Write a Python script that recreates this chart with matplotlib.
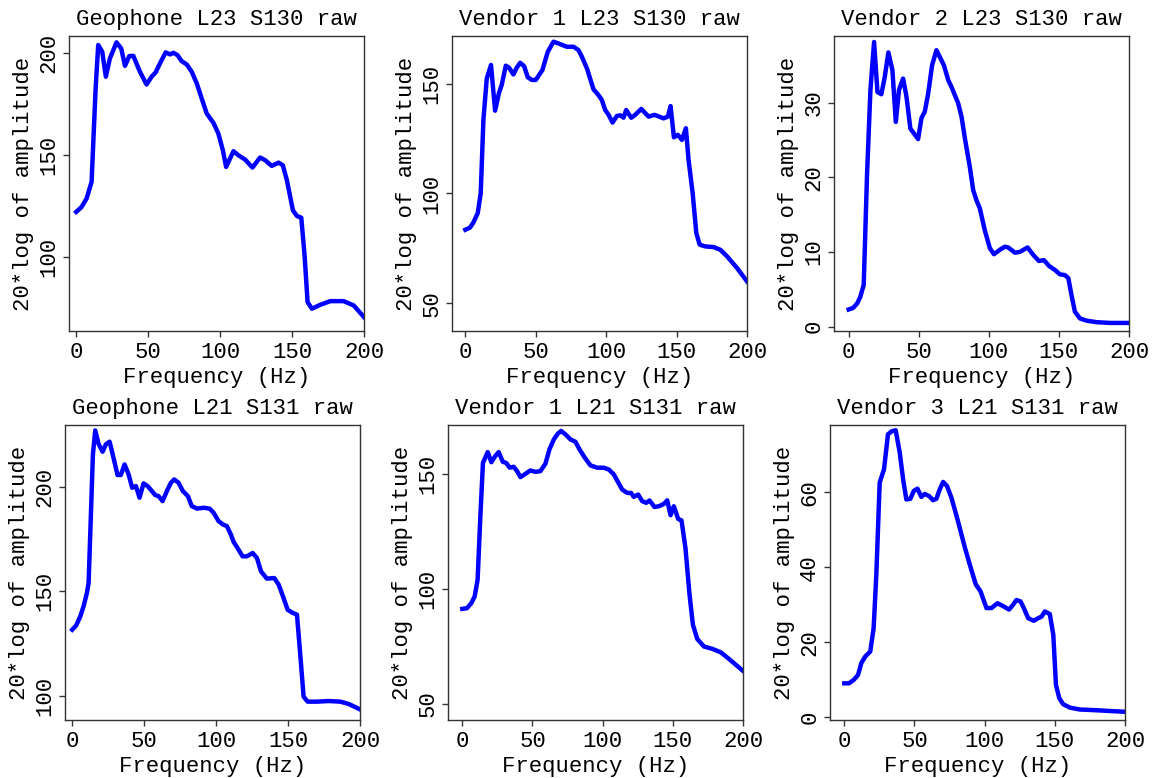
import matplotlib
matplotlib.use("Agg")
import matplotlib.pyplot as plt

plt.rcParams['font.family'] = ['Liberation Mono', 'DejaVu Sans Mono']

f_geo23 = [0, 3.7, 7.2, 10.7, 13.5, 15.3, 18.1, 20.6, 23.4, 28, 31.3, 33.9, 36.9, 39.7, 44.3, 48.9,
           52.4, 55.2, 58.2, 62.2, 65.2, 67.5, 70.3, 73.3, 76.8, 80.3, 83.8, 87.2, 90.7, 95.4, 98.8,
           101.9, 104.2, 106.9, 109.3, 112.7, 117.4, 122.5, 127.8, 131.3, 135.9, 140.6, 143.6, 146.4,
           150.6, 153.4, 156.4, 158.7, 160.8, 163.8, 169.6, 176.6, 185.8, 192.8, 200]
a_geo23 = [122.2, 124.6, 128.7, 136.9, 182.5, 203.8, 200.5, 188.3, 197.2, 205.1, 202.1, 193.6, 198.4,
           198.5, 190.7, 184.5, 188.3, 190.4, 194.8, 200.2, 199.2, 200, 198.9, 195.9, 194.3, 190.7,
           185, 177.7, 170.3, 165.7, 160.5, 152.4, 144.2, 148.3, 151.9, 149.9, 147.8, 143.9, 148.8,
           147.5, 144.7, 146.3, 145, 137.7, 123, 120.2, 119.4, 101, 78.1, 74.9, 76.8, 78.6, 78.6,
           76.5, 70.8]

f_v1_23 = [0, 3.3, 5.7, 8.8, 10.9, 12.8, 15.2, 18.2, 21.1, 23.9, 25.8, 28.7, 31, 34.1, 36.5, 38.9,
           41.7, 44.3, 47.2, 50, 54.7, 58.5, 62.6, 66.1, 72, 76.8, 80.3, 82.7, 86.3, 91, 94.5, 96.9,
           99.3, 101.7, 104.5, 107.6, 110, 112.3, 114.2, 117.8, 120.6, 124.9, 130.1, 134.4, 140.8,
           143.8, 145.7, 148.1, 150.9, 153.8, 156.6, 158.5, 161.4, 164, 166.4, 170.4, 176.3, 181,
           185.8, 192.9, 200]
a_v1_23 = [83.5, 84.5, 86.8, 91.1, 100.2, 133.5, 152.4, 158.5, 137.7, 145.9, 149.4, 158.2, 157.3,
           154.2, 157.3, 159.5, 158, 152.9, 151.7, 151.7, 156.2, 164.5, 169.1, 168.3, 166.8, 166.8,
           165.3, 162.3, 157, 147.4, 144.8, 142.6, 138, 135.8, 132.3, 135.3, 135.6, 134.5, 138,
           134.5, 135.8, 138.5, 135, 135.8, 134.2, 135, 139.8, 125.6, 126.7, 124.4, 129.7, 115.3,
           100.2, 82, 76.7, 75.9, 75.6, 74.4, 71.4, 66.1, 60]

f_v2_23 = [0, 3.1, 6, 8.3, 10.7, 13.1, 15.5, 18.1, 20.5, 23.3, 25.7, 28.3, 31.2, 33.6, 35.9, 38.8,
           41.2, 44, 46.4, 49.5, 51.9, 54.3, 56.7, 59.5, 62.6, 65.5, 67.9, 71, 73.3, 75.7, 78.1,
           80.5, 82.9, 86.4, 88.8, 91.2, 93.6, 97.1, 100.7, 103.6, 107.9, 111.4, 113.8, 118.6,
           122.1, 127.6, 131.7, 135.7, 139.3, 143.1, 147.1, 150.7, 154.3, 156.7, 159, 161.4, 165,
           169.8, 176.9, 186.4, 200]
a_v2_23 = [2.3, 2.5, 3.1, 4.0, 5.6, 20.5, 31.7, 38.1, 31.4, 31.1, 33.4, 36.7, 34.3, 27.4, 31.7,
           33.2, 30.8, 26.5, 25.9, 25.1, 27.9, 28.8, 31.2, 35, 37, 35.9, 35, 33, 32.1, 31, 29.9,
           28.1, 25.2, 21.4, 18.3, 16.9, 15.8, 12.9, 10.5, 9.7, 10.3, 10.7, 10.6, 9.9, 10, 10.6,
           9.6, 8.8, 8.9, 8.1, 7.6, 7.0, 6.9, 6.5, 4.2, 2.0, 1.1, 0.8, 0.6, 0.5, 0.5]

f_geo21 = [0, 2.8, 5.6, 7.9, 10.2, 11.4, 13, 14.4, 16, 18.3, 21.1, 23.4, 26, 28.7, 31.5, 33.8,
           36.4, 39.2, 41.7, 44.3, 46.8, 49.6, 52.4, 55.4, 57.7, 60, 62.8, 65.8, 68.6, 70.9, 73.9,
           76.9, 80.4, 83.1, 86.7, 91.3, 95.5, 98.3, 101.7, 104.7, 107.5, 110.3, 112.2, 114.9,
           118.4, 121.4, 125.4, 128.4, 131.2, 135.3, 140.4, 143.5, 146.9, 149.7, 152.7, 156.2,
           158.5, 160.8, 163.6, 170.1, 178.2, 186.3, 192.1, 200]
a_geo21 = [131.6, 133.7, 138, 142.8, 149.2, 154, 186.9, 215.7, 227.2, 220.8, 217, 220.5, 221.8,
           214.1, 205.8, 205.8, 210.9, 206.1, 199.7, 200.5, 194.9, 201.8, 200.5, 198.1, 196.2,
           195.7, 193.3, 198.1, 202.1, 203.7, 202.1, 198.1, 195.7, 190.9, 189.7, 190.1, 189.7,
           187.7, 183.7, 182.1, 181.3, 177.2, 173.7, 170.8, 166.8, 166.8, 168.4, 166, 159.6,
           156.1, 156.4, 153.2, 146.8, 141.2, 139.9, 138.8, 119.6, 99.5, 97.1, 97.1, 97.4, 97.1,
           96, 93.4]

f_v1_21 = [0, 3.3, 6.4, 8.8, 10.9, 12.8, 14.7, 18.1, 20.7, 23.5, 25.9, 28.8, 31.2, 33.8, 36.6,
           39, 41.4, 44.9, 48.5, 52.1, 55.6, 59.2, 62.1, 65.2, 68, 70.4, 73.5, 77.1, 80.6, 83.5,
           87, 91.3, 96.1, 100.8, 104.4, 107.9, 110.8, 113.9, 117.5, 120.3, 122.2, 125.3, 128.2,
           131, 133.4, 136.9, 140, 143.6, 146, 148.4, 150.7, 153.8, 156.2, 159, 161.9, 164.3,
           167.4, 172.2, 178.1, 184.1, 190, 200]
a_v1_21 = [91.3, 91.6, 93.8, 96.7, 104, 130.9, 154.9, 159.6, 155.2, 157.9, 159.6, 155.4, 154.9,
           152.8, 153.2, 151.3, 148.7, 150.1, 151.6, 151, 151.3, 154.5, 160.8, 165.1, 167.6,
           168.8, 167.3, 165.1, 164.1, 160.8, 157.4, 153.8, 152.8, 152.8, 152, 149.9, 146.7,
           143.3, 141.8, 141.8, 140.1, 141.1, 138.2, 137.5, 138.5, 135.7, 136, 137, 138.6, 132.1,
           136, 130.5, 129.8, 117.8, 97.5, 84.4, 78.2, 74.9, 73.9, 72.4, 69.5, 64.3]

f_v3_21 = [0, 3.3, 6.7, 9.8, 12.1, 15, 18.5, 20.9, 22.8, 25.2, 28.3, 31.1, 33.7, 36.6, 39.5,
           41.9, 44.2, 47.1, 49.5, 52.1, 54.9, 57.3, 60.4, 63.3, 65.6, 68, 70.4, 73.2, 76.3, 81,
           85.8, 89.4, 93.7, 97, 101.3, 104.9, 109.1, 113.2, 117.4, 120.3, 122.6, 125.5, 127.9,
           131, 135, 138.1, 140.5, 142.9, 146.4, 148.9, 150.8, 153.2, 156, 160.8, 167.9, 179.8,
           189.3, 200]
a_v3_21 = [9.0, 9.0, 9.9, 11.25, 14.4, 16.2, 17.5, 23.8, 38, 62.6, 66.2, 75.5, 76.3, 76.6, 70.6,
           63.5, 58.1, 58.3, 60.4, 61, 58.8, 59.6, 59, 57.9, 58.3, 60.8, 62.8, 61.7, 58.6, 52.3,
           45.4, 40.7, 35.4, 33.6, 29.1, 29.1, 30.4, 29.6, 28.7, 30, 31.25, 30.9, 29.1, 26.4,
           25.7, 26.4, 26.8, 28.2, 27.5, 22, 8.6, 5, 3.4, 2.5, 2, 1.8, 1.6, 1.4]

titles = ["Geophone L23 S130 raw", "Vendor 1 L23 S130 raw", "Vendor 2 L23 S130 raw",
          "Geophone L21 S131 raw", "Vendor 1 L21 S131 raw", "Vendor 3 L21 S131 raw"]
freqs = [f_geo23, f_v1_23, f_v2_23, f_geo21, f_v1_21, f_v3_21]
amps = [a_geo23, a_v1_23, a_v2_23, a_geo21, a_v1_21, a_v3_21]
yticks = [[100, 150, 200], [50, 100, 150], [0, 10, 20, 30],
          [100, 150, 200], [50, 100, 150], [0, 20, 40, 60]]
ylims = [(64, 208.2), (37.4, 171.7), (-0.58, 38.9),
         (88.3, 229.8), (42.9, 171.4), (-0.8, 78)]
xmins = [-5, -9.5, -10.5, -5, -10.2, -10.2]

# axes boxes in pixels: left, top
boxes = [(69, 36), (452, 36), (834, 36), (65, 425), (448, 425), (830, 425)]
W, H = 1156, 778
aw, ah = 295, 295
fs = 16

fig = plt.figure(figsize=(W / 100, H / 100), dpi=100)
for i in range(6):
    left, top = boxes[i]
    ax = fig.add_axes([left / W, (H - top - ah) / H, aw / W, ah / H])
    ax.plot(freqs[i], amps[i], color='#0000ff', lw=3.2, solid_joinstyle='round')
    ax.set_xlim(xmins[i], 200)
    ax.set_ylim(*ylims[i])
    ax.set_xticks([0, 50, 100, 150, 200])
    ax.set_yticks(yticks[i])
    ax.set_title(titles[i], fontsize=fs, pad=8)
    ax.set_xlabel("Frequency (Hz)", fontsize=fs, labelpad=3)
    ax.set_ylabel("20*log of amplitude", fontsize=fs, labelpad=3)
    ax.tick_params(labelsize=fs, length=4, width=1, color='#333333')
    ax.tick_params(axis='x', pad=4)
    ax.tick_params(axis='y', pad=3)
    for lab in ax.get_yticklabels():
        lab.set_rotation(90)
        lab.set_va('center')
    for s in ax.spines.values():
        s.set_color('#333333')
        s.set_linewidth(1)

fig.savefig("out.png", dpi=100)
